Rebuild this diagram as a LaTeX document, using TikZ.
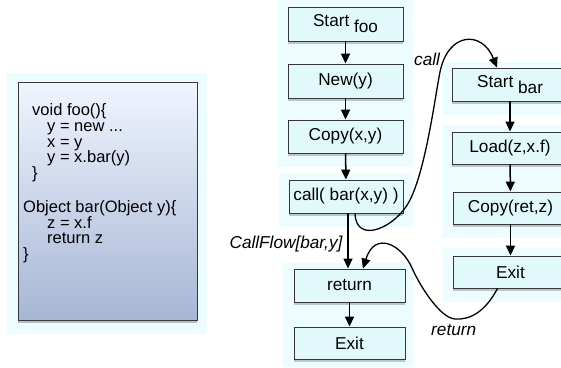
\documentclass[tikz,border=0pt]{standalone}
\usepackage{fontspec}
\setmainfont{Liberation Sans}
\usetikzlibrary{arrows.meta,shadows}
\definecolor{panel}{RGB}{236,252,255}
\definecolor{boxfill}{RGB}{226,249,252}
\definecolor{boxline}{RGB}{55,55,55}
\definecolor{codetop}{RGB}{240,245,255}
\definecolor{codebot}{RGB}{166,182,212}
\begin{document}
\begin{tikzpicture}[x=1pt,y=-1pt,
  font=\fontsize{17.2}{18}\selectfont,
  box/.style={draw=boxline, line width=0.9pt, fill=boxfill, inner sep=0pt,
    minimum width=115pt, minimum height=33pt,
    drop shadow={shadow xshift=0pt, shadow yshift=-3pt, opacity=0.3, fill=black!70}},
  arr/.style={line width=1.5pt, -{Triangle[length=10pt,width=9pt]}},
  flow/.style={line width=1.3pt, -{Triangle[length=10pt,width=9pt]}},
  lbl/.style={font=\fontsize{17.2}{18}\selectfont\itshape},
  code/.style={anchor=base west, inner sep=0pt, font=\fontsize{16.5}{18}\selectfont},
]
\useasboundingbox (0,0) rectangle (561,367);
\clip (0,0) rectangle (561,367);

% background panels
\fill[panel] (7,73) rectangle (207,334);
\fill[panel] (278,0) rectangle (413,167);
\fill[panel] (279,173) rectangle (413,227);
\fill[panel] (283,263) rectangle (413,367);
\fill[panel] (442,62) rectangle (561,115);
\fill[panel] (442,125) rectangle (561,238);
\fill[panel] (443,248) rectangle (561,302);

% source code listing
\node[draw=boxline, line width=0.9pt, top color=codetop, bottom color=codebot,
  minimum width=179pt, minimum height=238pt, inner sep=0pt,
  drop shadow={shadow xshift=0pt, shadow yshift=-3pt, opacity=0.35, fill=black!70}]
  (codebox) at (107.5,201) {};
\node[code] (c1) at (32,115) {void foo()\{};
\node[code] (c2) at (47,131) {y = new ...};
\node[code] (c3) at (47,147) {x = y};
\node[code] (c4) at (47,162.5) {y = x.bar(y)};
\node[code] (c5) at (32,178.5) {\}};
\node[code] (c6) at (23,212) {Object bar(Object y)\{};
\node[code] (c7) at (47,228) {z = x.f};
\node[code] (c8) at (47,243.5) {return z};
\node[code] (c9) at (23,259.5) {\}};

% control flow of foo
\node[box, minimum height=34pt] (sfoo) at (345.5,24) {Start \raisebox{-6pt}{foo}};
\node[box, minimum height=34pt] (newy) at (345.5,81) {New(y)};
\node[box] (copy) at (345.5,136.5) {Copy(x,y)};
\node[box, minimum width=114pt] (call) at (346,196.5) {call( bar(x,y) )};
\node[box, minimum width=111pt] (ret) at (349.5,285.5) {return};
\node[box, minimum width=111pt, minimum height=32pt] (exitfoo) at (349.5,343) {Exit};

% control flow of bar
\node[box, minimum width=116pt] (sbar) at (510,84.5) {Start \raisebox{-6pt}{bar}};
\node[box, minimum width=116pt, minimum height=32pt] (load) at (510,148) {Load(z,x.f)};
\node[box, minimum height=32pt] (cpy2) at (510.5,208) {Copy(ret,z)};
\node[box, minimum height=32pt] (exitbar) at (510.5,272) {Exit};

% intraprocedural edges
\draw[arr] (sfoo) -- (newy);
\draw[arr] (newy) -- (copy);
\draw[arr] (copy) -- (call);
\draw[arr] ([xshift=2pt]call.south) -- ([xshift=-1.5pt]ret.north);
\draw[arr] (ret) -- (exitfoo);
\draw[arr] (sbar) -- (load);
\draw[arr] (load) -- (cpy2);
\draw[arr] (cpy2) -- (exitbar);

% call and return edges
\draw[flow] ([xshift=9pt]call.south) .. controls (356,245) and (396,228) .. (410,200)
  .. controls (426,168) and (435,97) .. (440,72)
  .. controls (448,32) and (482,30) .. ([xshift=-13pt]sbar.north);
\draw[flow] ([xshift=-13pt]exitbar.south) .. controls (485,312) and (470,320) .. (455,319)
  .. controls (440,318) and (420,286) .. (412,268)
  .. controls (402,245) and (375,230) .. ([xshift=13.5pt]ret.north);

% edge labels
\node[lbl, anchor=base, inner sep=0pt] (lflow) at (286,248) {CallFlow[bar,y]};
\node[lbl, anchor=base west, inner sep=0pt] (lcall) at (414,65) {call};
\node[lbl, anchor=base west, inner sep=0pt] (lret) at (431,335) {return};
\end{tikzpicture}
\end{document}
